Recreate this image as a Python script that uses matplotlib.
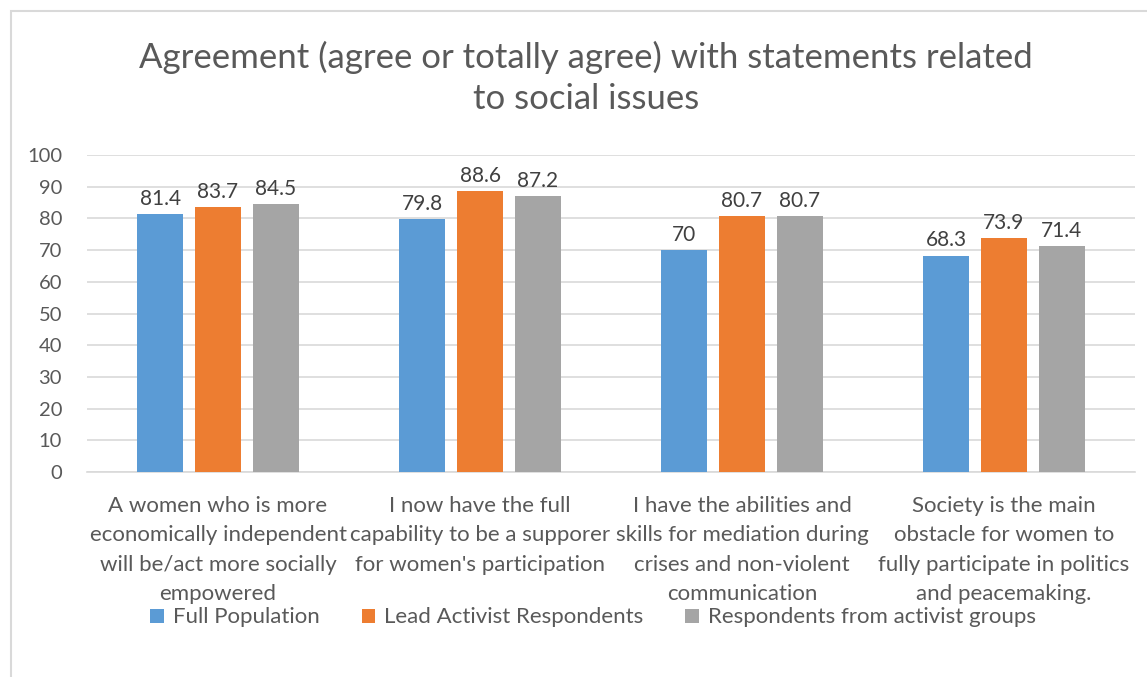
import numpy as np
import matplotlib.pyplot as plt
from matplotlib.patches import Rectangle

plt.rcParams['font.family'] = ['Lato', 'DejaVu Sans']

categories = [
    "A women who is more\neconomically independent\nwill be/act more socially\nempowered",
    "I now have the full\ncapability to be a supporer\nfor women's participation",
    "I have the abilities and\nskills for mediation during\ncrises and non-violent\ncommunication",
    "Society is the main\nobstacle for women to\nfully participate in politics\nand peacemaking.",
]
series_names = ["Full Population", "Lead Activist Respondents", "Respondents from activist groups"]
full_population = [81.4, 79.8, 70, 68.3]
lead_activists = [83.7, 88.6, 80.7, 73.9]
activist_groups = [84.5, 87.2, 80.7, 71.4]
y_ticks = [0, 10, 20, 30, 40, 50, 60, 70, 80, 90, 100]

colors = ['#5B9BD5', '#ED7D31', '#A5A5A5']
text_color = '#595959'
grid_color = '#D9D9D9'

fig = plt.figure(figsize=(11.47, 6.77), dpi=100)
ax = fig.add_axes([0.0759, 0.3028, 0.9136, 0.4682])

x = np.arange(len(categories))
width = 0.176
step = 0.22
for i, (vals, name) in enumerate(zip([full_population, lead_activists, activist_groups], series_names)):
    pos = x + (i - 1) * step
    ax.bar(pos, vals, width, color=colors[i], label=name, zorder=3)
    for p, v in zip(pos, vals):
        ax.text(p, v + 1.6, f"{v:g}", ha='center', va='bottom', fontsize=15, color='#404040')

ax.set_xlim(-0.5, len(categories) - 0.5)
ax.set_ylim(0, 100)
ax.set_yticks(y_ticks)
ax.set_xticks(x)
ax.set_xticklabels(categories, fontsize=16, color=text_color, linespacing=1.57)
ax.tick_params(axis='y', labelsize=14.5, labelcolor=text_color, length=0, pad=18)
ax.tick_params(axis='x', length=0, pad=17.5)
ax.grid(axis='y', color=grid_color, linewidth=1.2, zorder=0)
for s in ['top', 'right', 'left']:
    ax.spines[s].set_visible(False)
ax.spines['bottom'].set_color(grid_color)
ax.spines['bottom'].set_linewidth(1.2)

fig.text(0.511, 0.885, "Agreement (agree or totally agree) with statements related\nto social issues",
         ha='center', va='center', fontsize=25, color=text_color, linespacing=1.33)

fig.legend(loc='center', bbox_to_anchor=(0.517, 0.088), ncol=3, frameon=False,
           fontsize=16, labelcolor=text_color, handlelength=0.6, handleheight=0.6,
           handletextpad=0.4, columnspacing=1.9)

# chart area border
fig.patches.append(Rectangle((11 / 1147, -0.01), 1.02, 1 - 11 / 677 + 0.01,
                             transform=fig.transFigure, fill=False,
                             edgecolor=grid_color, linewidth=1.5))

fig.savefig('out.png', dpi=100)
